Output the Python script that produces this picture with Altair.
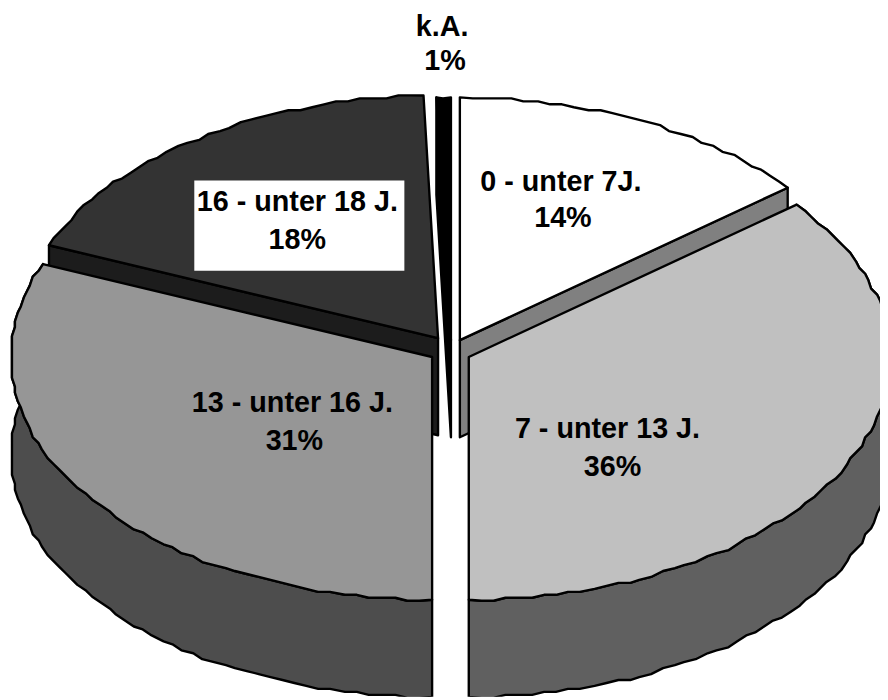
import numpy as np
import altair as alt

# values
categories = ["0 - unter 7J.", "7 - unter 13 J.", "13 - unter 16 J.", "16 - unter 18 J.", "k.A."]
shares = [14.2, 35.8, 31.25, 18.2, 0.55]
percent_labels = ["14%", "36%", "31%", "18%", "1%"]
top_colors = ["#ffffff", "#c0c0c0", "#969696", "#333333", "#000000"]
wall_colors = ["#808080", "#606060", "#4d4d4d", "#1c1c1c", "#000000"]

W, H = 880, 692
OFF = 8
RX, RY, DEPTH = 425, 245, 98
LEFT_LIMIT = 12
apexes = [(464, 340), (473, 357), (436, 357), (442, 338), (455, 340)]
name_pos = [(566, 180), (613, 430), (295, 404), (300, 201), (446, 24)]
pct_pos = [(568, 217), (618, 468), (297, 442), (300, 239), (449, 58)]
GRID = 3.0

edges = np.concatenate([[0], np.cumsum(shares)]) * 3.6
edges = edges / edges[-1] * 360


def pt(a, th):
    t = np.radians(th)
    return a[0] + RX * np.sin(t), a[1] - RY * np.cos(t)


def arc(a, t0, t1):
    length = abs(t1 - t0) / 360 * 2100
    n = max(2, int(length / 10))
    out = []
    for i, th in enumerate(np.linspace(t0, t1, n + 1)):
        x, y = pt(a, th)
        if 0 < i < n:
            x, y = round(x / GRID) * GRID, round(y / GRID) * GRID
        out.append((max(float(x), LEFT_LIMIT), float(y)))
    return out


def feature(points, fill):
    ring = [[p[0] - OFF, p[1] - OFF] for p in points]
    ring.append(ring[0])
    return {"type": "Feature", "properties": {"fill": fill},
            "geometry": {"type": "Polygon", "coordinates": [ring]}}


def top(i):
    return feature([apexes[i]] + arc(apexes[i], edges[i], edges[i + 1]), top_colors[i])


def wall(i, th):
    a = apexes[i]
    p = pt(a, th)
    return feature([p, a, (a[0], a[1] + DEPTH), (p[0], p[1] + DEPTH)], wall_colors[i])


def band(i):
    pts = arc(apexes[i], edges[i], edges[i + 1])
    low = [(x, y + DEPTH) for x, y in pts]
    return feature(pts + low[::-1], wall_colors[i])


features = [
    wall(4, edges[4]), top(4),
    wall(3, edges[3]), top(3),
    wall(0, edges[1]), top(0),
    band(2), band(1),
    top(2), top(1),
]

geo = alt.Chart(alt.Data(values=features)).mark_geoshape(
    stroke="black", strokeWidth=2.4, strokeJoin="round"
).encode(
    fill=alt.Fill("properties.fill:N", scale=None)
).project(type="identity", scale=1, translate=[0, 0])

xs = alt.Scale(domain=[0, W], range=[0, W])
ys = alt.Scale(domain=[0, H], range=[0, H])

box = alt.Chart(alt.Data(values=[{"x": 196 - OFF, "x2": 408 - OFF, "y": 179 - OFF, "y2": 270 - OFF}])).mark_rect(
    color="white"
).encode(
    x=alt.X("x:Q", scale=xs, axis=None), x2="x2:Q",
    y=alt.Y("y:Q", scale=ys, axis=None), y2="y2:Q",
)

rows = []
for c, p, (nx, ny), (px, py) in zip(categories, percent_labels, name_pos, pct_pos):
    rows.append({"t": c, "x": nx - OFF, "y": ny - OFF})
    rows.append({"t": p, "x": px - OFF, "y": py - OFF})

text = alt.Chart(alt.Data(values=rows)).mark_text(
    font="Liberation Sans", fontWeight="bold", fontSize=29, color="black", align="center", baseline="middle"
).encode(
    x=alt.X("x:Q", scale=xs, axis=None),
    y=alt.Y("y:Q", scale=ys, axis=None),
    text="t:N",
)

chart = alt.layer(geo, box, text).properties(
    width=W, height=H, padding=0, background="white",
    autosize=alt.AutoSizeParams(type="none"),
).configure_view(stroke=None)

chart.save("out.html", embed_options={"renderer": "svg", "actions": False})
